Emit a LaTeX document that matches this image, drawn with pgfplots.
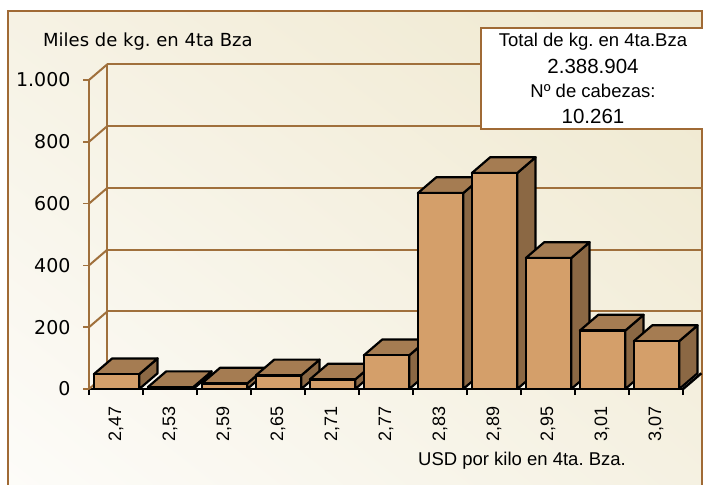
\documentclass[border=0pt]{standalone}
\usepackage{fontspec}
\setmainfont{Liberation Sans}
\newfontfamily\verd{DejaVu Sans}
\usepackage{pgfplots}
\usepackage{pgfplotstable}
\usetikzlibrary{shadings}
\pgfplotsset{compat=1.18}
\definecolor{frontc}{HTML}{D49F6A}
\definecolor{topc}{HTML}{A57C52}
\definecolor{sidec}{HTML}{8B6844}
\definecolor{gridc}{HTML}{A0703C}
\definecolor{framec}{HTML}{A06A35}
\definecolor{bgul}{RGB}{246,242,228}
\definecolor{bgur}{RGB}{239,232,206}
\definecolor{bgll}{RGB}{253,252,249}
\definecolor{bglr}{RGB}{245,241,226}

\pgfplotstableread{
k v
0 48
1 6
2 18
3 44
4 31
5 109
6 634
7 699
8 424
9 189
10 155
}\datatab

\begin{document}
\frenchspacing
\begin{tikzpicture}
\useasboundingbox (0pt,0pt) rectangle (703pt,484pt);
\clip (0pt,0pt) rectangle (703pt,484pt);
\fill[white] (0pt,0pt) rectangle (703pt,484pt);
\shade[upper left=bgul, upper right=bgur, lower left=bgll, lower right=bglr] (8pt,-10pt) rectangle (702pt,473pt);
\draw[framec, line width=2.5pt] (8pt,-10pt) rectangle (702pt,473pt);

\begin{axis}[
  at={(89pt,95pt)}, anchor=south west,
  scale only axis, width=594pt, height=309pt,
  xmin=0, xmax=11, ymin=0, ymax=1000,
  clip=false,
  axis x line*=bottom, axis y line*=left,
  x axis line style={draw=black, line width=2.5pt, -},
  y axis line style={draw=gridc, line width=2pt, -},
  xtick={0,...,11},
  x tick label as interval,
  xticklabels={{2,47},{2,53},{2,59},{2,65},{2,71},{2,77},{2,83},{2,89},{2,95},{3,01},{3,07}},
  ytick={0,200,...,1000},
  tick align=outside, major tick length=6pt,
  x tick style={black, line width=1.2pt},
  y tick style={gridc, line width=1.5pt},
  yticklabel style={font=\verd\fontsize{19}{21}\selectfont, xshift=-2pt},
  yticklabel shift=7pt,
  xticklabel style={rotate=90, anchor=east, font=\fontsize{18}{20}\selectfont},
  xticklabel shift=8pt,
  /pgf/number format/1000 sep={.},
  /pgf/number format/assume math mode=true,
]
% back wall
\draw[gridc, line width=2pt] (axis cs:0.34,51) -- (axis cs:0.34,1051);
\draw[gridc, line width=2pt] (axis cs:0.34,251) -- (axis cs:11.5,251);
\draw[gridc, line width=2pt] (axis cs:0.34,451) -- (axis cs:11.5,451);
\draw[gridc, line width=2pt] (axis cs:0.34,651) -- (axis cs:11.5,651);
\draw[gridc, line width=2pt] (axis cs:0.34,851) -- (axis cs:11.5,851);
\draw[gridc, line width=2pt] (axis cs:0.34,1051) -- (axis cs:11.5,1051);
\draw[gridc, line width=2pt] (axis cs:0,0) -- (axis cs:0.34,51);
\draw[gridc, line width=2pt] (axis cs:0,200) -- (axis cs:0.34,251);
\draw[gridc, line width=2pt] (axis cs:0,400) -- (axis cs:0.34,451);
\draw[gridc, line width=2pt] (axis cs:0,600) -- (axis cs:0.34,651);
\draw[gridc, line width=2pt] (axis cs:0,800) -- (axis cs:0.34,851);
\draw[gridc, line width=2pt] (axis cs:0,1000) -- (axis cs:0.34,1051);
% floor edge
\draw[black, line width=2.5pt] (axis cs:11,0) -- (axis cs:11.34,51);
% bars
\pgfplotsinvokeforeach{0,...,10}{
  \pgfplotstablegetelem{#1}{v}\of\datatab
  \pgfmathsetmacro\va{\pgfplotsretval}
  \pgfmathsetmacro\vb{\pgfplotsretval+51}
  \pgfmathsetmacro\xa{#1+0.09}
  \pgfmathsetmacro\xb{#1+0.93}
  \pgfmathsetmacro\xc{#1+0.93+0.34}
  \pgfmathsetmacro\xd{#1+0.09+0.34}
  \edef\tmp{%
    \noexpand\addplot[draw=black, line width=2.2pt, line join=round, fill=sidec] coordinates {(\xb,0) (\xb,\va) (\xc,\vb) (\xc,51)} --cycle;
    \noexpand\addplot[draw=black, line width=2.2pt, line join=round, fill=topc] coordinates {(\xa,\va) (\xb,\va) (\xc,\vb) (\xd,\vb)} --cycle;
    \noexpand\addplot[draw=black, line width=2.2pt, line join=round, fill=frontc] coordinates {(\xa,0) (\xb,0) (\xb,\va) (\xa,\va)} --cycle;
  }\tmp
}
\end{axis}

% title
\node[anchor=base west, inner sep=0pt, font=\verd\fontsize{18}{20}\selectfont] at (43pt,437pt) {Miles de kg. en 4ta Bza};
% x label
\node[anchor=base, inner sep=0pt, font=\fontsize{18.5}{20}\selectfont] at (522pt,19pt) {USD por kilo en 4ta. Bza.};
% text box
\draw[framec, line width=2pt, fill=white] (481pt,355pt) rectangle (712pt,456pt);
\node[anchor=base, inner sep=0pt, font=\fontsize{18.5}{20}\selectfont] at (593pt,437pt) {Total de kg. en 4ta.Bza};
\node[anchor=base, inner sep=0pt, font=\fontsize{20.5}{22}\selectfont] at (593pt,410pt) {2.388.904};
\node[anchor=base, inner sep=0pt, font=\fontsize{18.5}{20}\selectfont] at (593pt,386pt) {Nº de cabezas:};
\node[anchor=base, inner sep=0pt, font=\fontsize{20.5}{22}\selectfont] at (593pt,360pt) {10.261};
\end{tikzpicture}
\end{document}
